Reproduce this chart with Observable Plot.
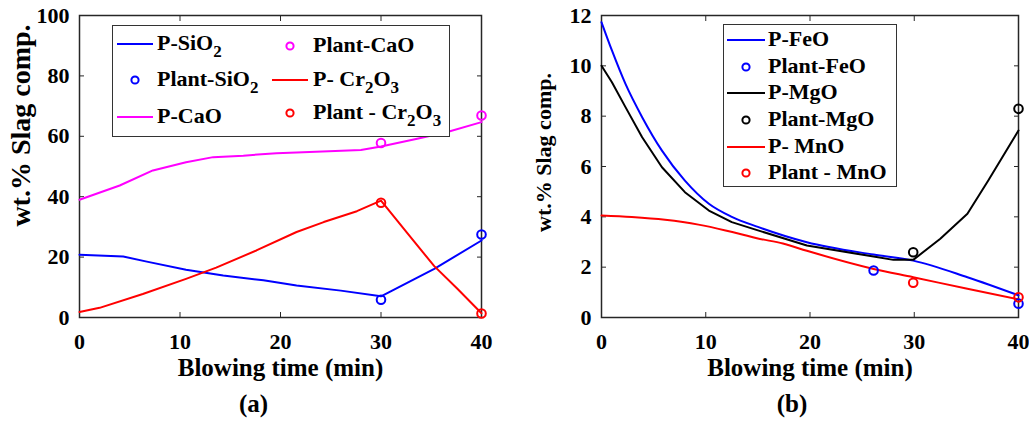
<!DOCTYPE html>
<html>
<head>
<meta charset="utf-8">
<script src="https://cdn.jsdelivr.net/npm/d3@7"></script>
<script src="https://cdn.jsdelivr.net/npm/@observablehq/plot@0.6"></script>
<style>
  html, body { margin: 0; padding: 0; background: #fff; }
  #root { position: relative; width: 1029px; height: 427px; overflow: hidden; font-family: "Liberation Serif", "Times New Roman", serif; font-weight: bold; }
  .legend { position: absolute; border: 1.5px solid #333; background: #fff; box-sizing: border-box; }
  .item { position: absolute; font-size: 22px; line-height: 22px; white-space: nowrap; color: #000; }
  .item sub { font-size: 17px; vertical-align: -7px; line-height: 0; }
  .sw { position: absolute; }
</style>
</head>
<body>
<div id="root"></div>
<script>
// ---------- Shared text ----------
const xLabel = "Blowing time (min)";
const yLabel = "wt.% Slag comp.";
const xTicks = [0, 10, 20, 30, 40];
const yTicksA = [0, 20, 40, 60, 80, 100];
const yTicksB = [0, 2, 4, 6, 8, 10, 12];

// ---------- Panel (a) data ----------
const sio2Time = [0, 4.35, 6.7, 10.6, 14.3, 18.3, 21.6, 26, 30, 35.3, 40];
const sio2Pred = [20.8, 20.2, 18.5, 15.8, 13.9, 12.3, 10.6, 8.9, 7.0, 16.1, 25.5];
const caoTime = [0, 4, 7.3, 10.6, 13.3, 16.3, 19.6, 21.6, 28, 30, 33.6, 36.6, 40];
const caoPred = [39.0, 43.7, 48.7, 51.4, 53.1, 53.6, 54.4, 54.6, 55.5, 56.6, 59.2, 61.4, 64.7];
const cr2o3Time = [0, 2, 6.3, 10.6, 13.6, 17.6, 21.6, 24.3, 27.6, 30, 32.6, 35.3, 37.6, 40];
const cr2o3Pred = [1.8, 3.2, 7.8, 12.8, 16.5, 22.2, 28.3, 31.6, 35.2, 38.7, 28.0, 17.0, 9.5, 1.4];
const plantTimeA = [30, 40];
const plantSiO2 = [5.9, 27.5];
const plantCaO = [57.8, 66.9];
const plantCr2O3 = [38.0, 1.3];

// ---------- Panel (b) data ----------
const feoTime = [0, 1, 2.3, 3.9, 5.8, 8, 10.3, 12.5, 15, 19.7, 26.1, 29.9, 35.1, 40];
const feoPred = [11.73, 10.61, 9.28, 7.96, 6.63, 5.44, 4.52, 4.0, 3.6, 2.99, 2.50, 2.26, 1.60, 0.88];
const mgoTime = [0, 1, 2.3, 3.9, 5.8, 8, 10.3, 12.5, 14.7, 19.7, 26.1, 28, 29.9, 32.5, 35.1, 37.1, 40];
const mgoPred = [10.0, 9.35, 8.36, 7.16, 5.97, 4.98, 4.25, 3.79, 3.5, 2.86, 2.42, 2.29, 2.29, 3.13, 4.12, 5.44, 7.43];
const mnoTime = [0, 2.9, 6.1, 9.3, 11.9, 13.3, 14.9, 17.4, 19.7, 26.1, 29.9, 35.1, 40];
const mnoPred = [4.05, 3.99, 3.88, 3.69, 3.46, 3.32, 3.15, 2.94, 2.65, 1.93, 1.60, 1.14, 0.72];
const plantFeOTime = [26.1, 40];
const plantFeO = [1.87, 0.55];
const plantMgOTime = [29.9, 40];
const plantMgO = [2.59, 8.29];
const plantMnOTime = [29.9, 40];
const plantMnO = [1.38, 0.8];

const pairs = (xs, ys) => xs.map((x, i) => ({x, y: ys[i]}));

function panel({width, marginLeft, marginRight, yDomain, yTicks, lines, dots, tag, tagDx, ylabDx, ylabDy, ylabSize}) {
  const marks = [
    Plot.frame({stroke: "#262626", strokeWidth: 1.5}),
    // inward ticks on all four sides
    Plot.axisX(xTicks, {anchor: "bottom", tickSize: -5, fill: "none", label: null, stroke: "#262626"}),
    Plot.axisX(xTicks, {anchor: "top", tickSize: -5, fill: "none", label: null, stroke: "#262626"}),
    Plot.axisY(yTicks, {anchor: "left", tickSize: -5, fill: "none", label: null, stroke: "#262626"}),
    Plot.axisY(yTicks, {anchor: "right", tickSize: -5, fill: "none", label: null, stroke: "#262626"}),
    // tick labels
    Plot.axisX(xTicks, {anchor: "bottom", tickSize: 0, tickPadding: 16, label: null}),
    Plot.axisY(yTicks, {anchor: "left", tickSize: 0, tickPadding: 10, label: null}),
  ];
  for (const l of lines) {
    marks.push(Plot.line(pairs(l.t, l.v), {x: "x", y: "y", stroke: l.color, strokeWidth: 2, curve: l.curve || "linear"}));
  }
  for (const d of dots) {
    marks.push(Plot.dot(pairs(d.t, d.v), {x: "x", y: "y", r: 4.3, stroke: d.color, strokeWidth: 2, fill: "none"}));
  }
  marks.push(Plot.text([xLabel], {text: d => d, frameAnchor: "bottom", dy: 58, fontSize: 25}));
  marks.push(Plot.text([tag], {text: d => d, frameAnchor: "bottom", dy: 94, dx: tagDx, fontSize: 25}));
  marks.push(Plot.text([yLabel], {text: d => d, frameAnchor: "left", textAnchor: "middle", rotate: -90, dx: ylabDx, dy: ylabDy, fontSize: ylabSize}));
  return Plot.plot({
    width, height: 427,
    marginLeft, marginRight, marginTop: 15, marginBottom: 110,
    x: {domain: [0, 40]},
    y: {domain: yDomain},
    style: {fontFamily: "Liberation Serif, Times New Roman, serif", fontWeight: "bold", fontSize: "22px", color: "#000", background: "transparent", overflow: "visible"},
    marks
  });
}

const root = document.getElementById("root");

const pa = panel({
  width: 514, marginLeft: 79, marginRight: 33, yDomain: [0, 100], yTicks: yTicksA, tag: "(a)", tagDx: -27,
  ylabDx: -58, ylabDy: -41, ylabSize: 28,
  lines: [
    {t: sio2Time, v: sio2Pred, color: "#0000ff"},
    {t: caoTime, v: caoPred, color: "#ff00ff"},
    {t: cr2o3Time, v: cr2o3Pred, color: "#ff0000"}
  ],
  dots: [
    {t: plantTimeA, v: plantSiO2, color: "#0000ff"},
    {t: plantTimeA, v: plantCaO, color: "#ff00ff"},
    {t: plantTimeA, v: plantCr2O3, color: "#ff0000"}
  ]
});
Object.assign(pa.style, {position: "absolute", left: "0px", top: "0px"});
root.appendChild(pa);

const pb = panel({
  width: 520, marginLeft: 92, marginRight: 11, yDomain: [0, 12], yTicks: yTicksB, tag: "(b)", tagDx: -18,
  ylabDx: -58, ylabDy: -14, ylabSize: 22,
  lines: [
    {t: feoTime, v: feoPred, color: "#0000ff", curve: "monotone-x"},
    {t: mgoTime, v: mgoPred, color: "#000000"},
    {t: mnoTime, v: mnoPred, color: "#ff0000", curve: "monotone-x"}
  ],
  dots: [
    {t: plantFeOTime, v: plantFeO, color: "#0000ff"},
    {t: plantMgOTime, v: plantMgO, color: "#000000"},
    {t: plantMnOTime, v: plantMnO, color: "#ff0000"}
  ]
});
Object.assign(pb.style, {position: "absolute", left: "509px", top: "0px"});
root.appendChild(pb);

// ---------- Legends ----------
const legendA = [
  {html: "P-SiO<sub>2</sub>", color: "#0000ff", kind: "line", col: 0, y: 44},
  {html: "Plant-SiO<sub>2</sub>", color: "#0000ff", kind: "dot", col: 0, y: 80},
  {html: "P-CaO", color: "#ff00ff", kind: "line", col: 0, y: 117},
  {html: "Plant-CaO", color: "#ff00ff", kind: "dot", col: 1, y: 46},
  {html: "P- Cr<sub>2</sub>O<sub>3</sub>", color: "#ff0000", kind: "line", col: 1, y: 80},
  {html: "Plant - Cr<sub>2</sub>O<sub>3</sub>", color: "#ff0000", kind: "dot", col: 1, y: 113}
];
const legendB = [
  {html: "P-FeO", color: "#0000ff", kind: "line", y: 40},
  {html: "Plant-FeO", color: "#0000ff", kind: "dot", y: 67},
  {html: "P-MgO", color: "#000000", kind: "line", y: 93},
  {html: "Plant-MgO", color: "#000000", kind: "dot", y: 120},
  {html: "P- MnO", color: "#ff0000", kind: "line", y: 147},
  {html: "Plant - MnO", color: "#ff0000", kind: "dot", y: 173}
];

function box(l, t, w, h) {
  const b = document.createElement("div");
  b.className = "legend";
  Object.assign(b.style, {left: l + "px", top: t + "px", width: w + "px", height: h + "px"});
  root.appendChild(b);
}
function swatch(kind, color, x0, x1, y) {
  const s = document.createElementNS("http://www.w3.org/2000/svg", "svg");
  s.setAttribute("class", "sw");
  s.setAttribute("width", x1 - x0 + 4);
  s.setAttribute("height", 12);
  s.style.left = (x0 - 2) + "px";
  s.style.top = (y - 6) + "px";
  const cx = (x1 - x0) / 2 + 2;
  if (kind === "line") {
    s.innerHTML = `<line x1="2" x2="${x1 - x0 + 2}" y1="6" y2="6" stroke="${color}" stroke-width="2.2"/>`;
  } else {
    s.innerHTML = `<circle cx="${cx}" cy="6" r="3.6" stroke="${color}" stroke-width="2" fill="none"/>`;
  }
  root.appendChild(s);
}
function label(html, x, y) {
  const d = document.createElement("div");
  d.className = "item";
  d.innerHTML = html;
  d.style.left = x + "px";
  d.style.top = (y - 12) + "px";
  root.appendChild(d);
}

box(112, 25, 338, 112);
for (const it of legendA) {
  const [x0, x1, tx] = it.col === 0 ? [117, 153, 157] : [272, 308, 313];
  swatch(it.kind, it.color, x0, x1, it.y);
  label(it.html, tx, it.y);
}
box(723, 24, 174, 163);
for (const it of legendB) {
  swatch(it.kind, it.color, 727, 765, it.y);
  label(it.html, 768, it.y);
}
</script>
</body>
</html>
